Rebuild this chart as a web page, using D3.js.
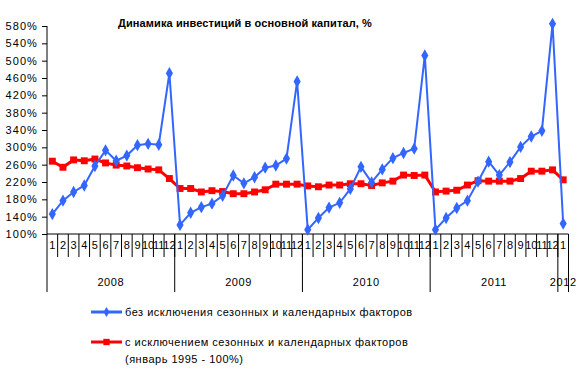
<!DOCTYPE html>
<html>
<head>
<meta charset="utf-8">
<script src="https://cdn.jsdelivr.net/npm/d3@7/dist/d3.min.js"></script>
<style>
  body { margin: 0; background: #fff; }
  svg { display: block; font-family: "Liberation Sans", Arial, sans-serif; }
</style>
</head>
<body>
<div id="chart"></div>
<script>
const years = ["2008", "2009", "2010", "2011", "2012"];
const months = ["1", "2", "3", "4", "5", "6", "7", "8", "9", "10", "11", "12"];
const monthsPerYear = [12, 12, 12, 12, 1];

// без исключения сезонных и календарных факторов
const rawValues = [
  146, 177, 197, 212, 257, 293, 269, 281, 305, 308, 306, 471,
  121, 149, 162, 170, 188, 235, 217, 231, 253, 258, 274, 452,
  110, 137, 161, 172, 204, 255, 219, 249, 275, 287, 297, 512,
  110, 137, 160, 177, 221, 267, 236, 266, 301, 325, 338, 585,
  124
];
// с исключением сезонных и календарных факторов
const adjValues = [
  268, 254, 271, 269, 273, 264, 259, 257, 253, 250, 248, 228,
  205, 205, 197, 200, 198, 193, 193, 197, 202, 215, 215, 215,
  211, 209, 213, 213, 216, 216, 212, 218, 222, 236, 235, 236,
  197, 199, 201, 213, 223, 222, 222, 222, 228, 245, 245, 248,
  225
];
const yTicks = [100, 140, 180, 220, 260, 300, 340, 380, 420, 460, 500, 540, 580];

const title = "Динамика инвестиций в основной капитал, %";
const legendLabels = [
  ["без исключения сезонных и календарных факторов"],
  ["с исключением сезонных и календарных факторов", "(январь 1995 - 100%)"]
];

const width = 581, height = 375;
const plotLeft = 47, plotRight = 568.5, plotTop = 26, plotBottom = 234;
const blue = "#3366ff", red = "#ff0000";

// categories: one per month
const cats = [];
monthsPerYear.forEach((n, yi) => {
  for (let m = 0; m < n; m++) cats.push({ key: years[yi] + "-" + months[m], month: months[m], year: years[yi] });
});

const svg = d3.select("#chart").append("svg")
  .attr("width", width)
  .attr("height", height);

const x = d3.scaleBand()
  .domain(cats.map(d => d.key))
  .range([plotLeft, plotRight])
  .padding(0);

const y = d3.scaleLinear()
  .domain([100, 580])
  .range([plotBottom, plotTop]);

const cx = i => x(cats[i].key) + x.bandwidth() / 2;

// title
svg.append("text")
  .attr("x", 245)
  .attr("y", 27)
  .attr("text-anchor", "middle")
  .style("font-size", "11px")
  .style("font-weight", "bold")
  .style("letter-spacing", "0.1px")
  .text(title);

// y axis
const yAxis = svg.append("g")
  .attr("transform", "translate(" + plotLeft + ",0)")
  .call(d3.axisLeft(y).tickValues(yTicks).tickSize(5).tickPadding(4).tickFormat(d => d + "%"));
yAxis.select(".domain").attr("d", "M0," + plotTop + "V" + plotBottom).attr("stroke", "#000");
yAxis.selectAll("text")
  .style("font-size", "11px")
  .style("font-family", "inherit")
  .style("letter-spacing", "1.1px")
  .attr("fill", "#000");

// x axis line
svg.append("line")
  .attr("x1", plotLeft).attr("x2", plotRight)
  .attr("y1", plotBottom).attr("y2", plotBottom)
  .attr("stroke", "#000");

// month separators
svg.append("g").selectAll("line")
  .data(cats)
  .enter()
  .append("line")
  .attr("x1", d => x(d.key) + x.bandwidth())
  .attr("x2", d => x(d.key) + x.bandwidth())
  .attr("y1", plotBottom)
  .attr("y2", plotBottom + 23)
  .attr("stroke", "#000");

// month labels
svg.append("g").selectAll("text")
  .data(cats)
  .enter()
  .append("text")
  .attr("x", d => x(d.key) + x.bandwidth() / 2)
  .attr("y", plotBottom + 15)
  .attr("text-anchor", "middle")
  .style("font-size", "11px")
  .text(d => d.month);

// year groups
const groups = [];
let start = 0;
monthsPerYear.forEach((n, yi) => {
  groups.push({ year: years[yi], x0: x(cats[start].key), x1: x(cats[start + n - 1].key) + x.bandwidth() });
  start += n;
});

svg.append("g").selectAll("line")
  .data([plotLeft].concat(groups.map(g => g.x1)))
  .enter()
  .append("line")
  .attr("x1", d => d).attr("x2", d => d)
  .attr("y1", plotBottom).attr("y2", plotBottom + 58)
  .attr("stroke", "#000");

svg.append("g").selectAll("text")
  .data(groups)
  .enter()
  .append("text")
  .attr("x", d => (d.x0 + d.x1) / 2)
  .attr("y", plotBottom + 52)
  .attr("text-anchor", "middle")
  .style("font-size", "11px")
  .style("letter-spacing", "0.6px")
  .text(d => d.year);

// series
const line = d3.line().x((d, i) => cx(i)).y(d => y(d));

function drawSeries(values, color, lw, symbolType, symSize) {
  svg.append("path")
    .datum(values)
    .attr("fill", "none")
    .attr("stroke", color)
    .attr("stroke-width", lw)
    .attr("d", line);
  svg.append("g").selectAll("path")
    .data(values)
    .enter()
    .append("path")
    .attr("transform", (d, i) => "translate(" + cx(i) + "," + y(d) + ")")
    .attr("d", d3.symbol().type(symbolType).size(symSize))
    .attr("fill", color);
}

drawSeries(adjValues, red, 3, d3.symbolSquare, 48);
drawSeries(rawValues, blue, 2, d3.symbolDiamond, 44);

// legend
const legendY = [312, 342];
const legendColors = [blue, red];
const legendSymbols = [d3.symbolDiamond, d3.symbolSquare];
legendLabels.forEach((lines, i) => {
  const g = svg.append("g").attr("transform", "translate(0," + legendY[i] + ")");
  g.append("line")
    .attr("x1", 91).attr("x2", 122)
    .attr("y1", 0).attr("y2", 0)
    .attr("stroke", legendColors[i])
    .attr("stroke-width", 3);
  g.append("path")
    .attr("transform", "translate(106.5,0)")
    .attr("d", d3.symbol().type(legendSymbols[i]).size(i ? 40 : 30))
    .attr("fill", legendColors[i]);
  lines.forEach((t, j) => {
    g.append("text")
      .attr("x", 125)
      .attr("y", 4 + j * 17)
      .style("font-size", "11px")
      .style("letter-spacing", "0.5px")
      .text(t);
  });
});
</script>
</body>
</html>
